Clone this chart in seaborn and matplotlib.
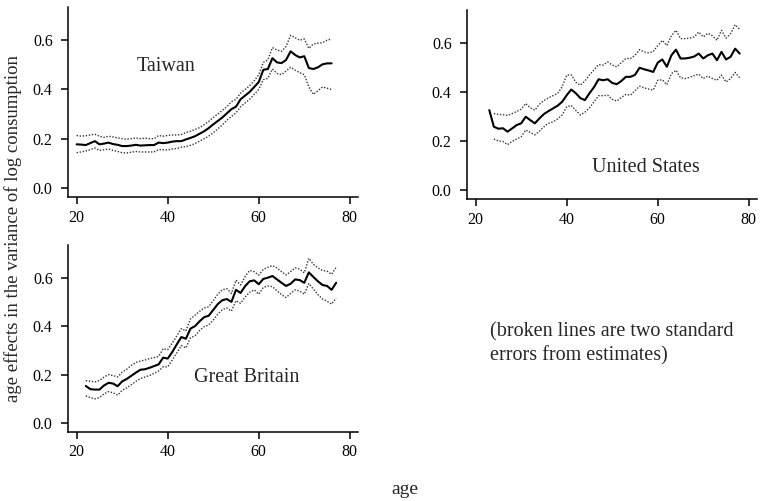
import numpy as np
import pandas as pd
import matplotlib.pyplot as plt
import seaborn as sns

sns.set_theme(style="ticks")
plt.rcParams["font.family"] = ["Liberation Serif", "DejaVu Serif"]

# Taiwan, ages 20-76
tw_age = list(range(20, 77))
tw_mean = [0.177, 0.176, 0.174, 0.182, 0.190, 0.177, 0.180, 0.184, 0.178, 0.175,
           0.170, 0.170, 0.172, 0.175, 0.172, 0.173, 0.174, 0.174, 0.184, 0.182,
           0.184, 0.188, 0.190, 0.190, 0.197, 0.203, 0.210, 0.220, 0.230, 0.243,
           0.258, 0.272, 0.286, 0.303, 0.320, 0.330, 0.360, 0.375, 0.390, 0.410,
           0.430, 0.480, 0.483, 0.527, 0.510, 0.507, 0.520, 0.555, 0.540, 0.530,
           0.535, 0.487, 0.483, 0.490, 0.502, 0.506, 0.506]
tw_upper = [0.213, 0.210, 0.212, 0.215, 0.218, 0.210, 0.205, 0.210, 0.207, 0.203,
            0.200, 0.198, 0.200, 0.203, 0.200, 0.202, 0.200, 0.200, 0.213, 0.210,
            0.213, 0.215, 0.215, 0.217, 0.225, 0.230, 0.237, 0.245, 0.257, 0.270,
            0.286, 0.300, 0.315, 0.330, 0.350, 0.360, 0.385, 0.400, 0.415, 0.435,
            0.460, 0.510, 0.520, 0.570, 0.560, 0.555, 0.575, 0.620, 0.610, 0.600,
            0.605, 0.567, 0.585, 0.588, 0.590, 0.600, 0.605]
tw_lower = [0.143, 0.146, 0.150, 0.155, 0.162, 0.152, 0.155, 0.158, 0.152, 0.148,
            0.143, 0.142, 0.145, 0.148, 0.146, 0.146, 0.146, 0.146, 0.156, 0.155,
            0.154, 0.158, 0.160, 0.165, 0.168, 0.173, 0.180, 0.190, 0.200, 0.210,
            0.224, 0.240, 0.256, 0.275, 0.290, 0.305, 0.330, 0.345, 0.360, 0.380,
            0.400, 0.440, 0.445, 0.483, 0.465, 0.460, 0.475, 0.490, 0.478, 0.468,
            0.460, 0.410, 0.380, 0.395, 0.410, 0.405, 0.400]

# United States, ages 23-78 (bands start at 24)
us_age = list(range(23, 79))
us_mean = [0.326, 0.258, 0.250, 0.252, 0.238, 0.251, 0.265, 0.272, 0.299, 0.285,
           0.272, 0.292, 0.310, 0.322, 0.333, 0.344, 0.360, 0.387, 0.410, 0.395,
           0.375, 0.367, 0.395, 0.420, 0.452, 0.448, 0.452, 0.437, 0.432, 0.445,
           0.462, 0.462, 0.470, 0.499, 0.493, 0.488, 0.482, 0.520, 0.533, 0.503,
           0.550, 0.573, 0.537, 0.537, 0.540, 0.545, 0.557, 0.537, 0.550, 0.557,
           0.530, 0.564, 0.533, 0.544, 0.577, 0.557]
us_upper = [np.nan, 0.312, 0.309, 0.307, 0.304, 0.312, 0.320, 0.330, 0.353, 0.335,
            0.326, 0.350, 0.365, 0.376, 0.385, 0.394, 0.421, 0.469, 0.470, 0.440,
            0.428, 0.445, 0.470, 0.490, 0.512, 0.510, 0.523, 0.510, 0.503, 0.520,
            0.537, 0.537, 0.550, 0.573, 0.564, 0.560, 0.565, 0.590, 0.611, 0.590,
            0.630, 0.652, 0.618, 0.618, 0.620, 0.625, 0.645, 0.625, 0.640, 0.630,
            0.611, 0.652, 0.620, 0.638, 0.675, 0.656]
us_lower = [np.nan, 0.208, 0.200, 0.198, 0.185, 0.198, 0.208, 0.217, 0.245, 0.235,
            0.225, 0.240, 0.258, 0.272, 0.278, 0.290, 0.306, 0.340, 0.345, 0.325,
            0.306, 0.318, 0.335, 0.360, 0.385, 0.385, 0.387, 0.370, 0.363, 0.378,
            0.390, 0.387, 0.405, 0.424, 0.417, 0.412, 0.408, 0.448, 0.450, 0.430,
            0.475, 0.489, 0.458, 0.455, 0.460, 0.467, 0.473, 0.455, 0.465, 0.455,
            0.448, 0.469, 0.441, 0.455, 0.480, 0.458]

# Great Britain, ages 22-77
gb_age = list(range(22, 78))
gb_mean = [0.153, 0.140, 0.138, 0.138, 0.155, 0.166, 0.163, 0.152, 0.172, 0.182,
           0.195, 0.208, 0.220, 0.222, 0.228, 0.235, 0.242, 0.270, 0.266, 0.293,
           0.325, 0.355, 0.348, 0.390, 0.400, 0.420, 0.437, 0.443, 0.467, 0.491,
           0.507, 0.512, 0.500, 0.550, 0.537, 0.565, 0.585, 0.589, 0.573, 0.595,
           0.600, 0.607, 0.593, 0.579, 0.566, 0.575, 0.593, 0.590, 0.579, 0.622,
           0.603, 0.585, 0.570, 0.566, 0.550, 0.579]
gb_upper = [0.175, 0.173, 0.170, 0.175, 0.190, 0.200, 0.196, 0.190, 0.210, 0.222,
            0.238, 0.250, 0.256, 0.260, 0.266, 0.270, 0.275, 0.307, 0.303, 0.330,
            0.360, 0.390, 0.380, 0.430, 0.445, 0.461, 0.475, 0.480, 0.505, 0.532,
            0.550, 0.555, 0.535, 0.590, 0.570, 0.605, 0.630, 0.625, 0.611, 0.634,
            0.643, 0.650, 0.640, 0.625, 0.611, 0.625, 0.641, 0.635, 0.620, 0.680,
            0.655, 0.640, 0.630, 0.627, 0.614, 0.643]
gb_lower = [0.112, 0.105, 0.100, 0.105, 0.120, 0.130, 0.125, 0.115, 0.135, 0.145,
            0.158, 0.172, 0.184, 0.190, 0.196, 0.205, 0.215, 0.232, 0.232, 0.260,
            0.289, 0.320, 0.310, 0.352, 0.360, 0.382, 0.398, 0.405, 0.425, 0.450,
            0.468, 0.475, 0.462, 0.505, 0.494, 0.520, 0.540, 0.550, 0.532, 0.560,
            0.566, 0.563, 0.546, 0.530, 0.518, 0.535, 0.550, 0.545, 0.532, 0.576,
            0.553, 0.530, 0.512, 0.503, 0.491, 0.516]

panels = [
    ("Taiwan", tw_age, tw_mean, tw_upper, tw_lower,
     [68/761, 1-197/501, 290/761, 190/501], (33.2, 0.494)),
    ("United States", us_age, us_mean, us_upper, us_lower,
     [467/761, 1-199/501, 290/761, 189/501], (45.5, 0.09)),
    ("Great Britain", gb_age, gb_mean, gb_upper, gb_lower,
     [68/761, 1-432/501, 290/761, 187/501], (45.7, 0.19)),
]

fig = plt.figure(figsize=(7.61, 5.01), dpi=100)

for name, age, mean, upper, lower, pos, lab in panels:
    ax = fig.add_axes(pos)
    df = pd.DataFrame({"age": age, "mean": mean, "upper": upper, "lower": lower})
    # dotted bands = two standard errors
    sns.lineplot(data=df, x="age", y="upper", ax=ax, color="#333333",
                 linewidth=1.0, linestyle=(0, (1, 1.2)))
    sns.lineplot(data=df, x="age", y="lower", ax=ax, color="#333333",
                 linewidth=1.0, linestyle=(0, (1, 1.2)))
    sns.lineplot(data=df, x="age", y="mean", ax=ax, color="black", linewidth=1.5)
    ax.set_xlim(18.1, 81.8)
    ax.set_ylim(-0.037, 0.735)
    ax.set_xticks([20, 40, 60, 80])
    ax.set_yticks([0.0, 0.2, 0.4, 0.6])
    ax.set_yticklabels(["0.0", "0.2", "0.4", "0.6"])
    ax.set_xlabel("")
    ax.set_ylabel("")
    sns.despine(ax=ax)
    for s in ["left", "bottom"]:
        ax.spines[s].set_linewidth(1.1)
        ax.spines[s].set_color("black")
    ax.tick_params(axis="both", labelsize=11.5, length=5, width=1.1, colors="black")
    ax.tick_params(axis="y", pad=6)
    ax.tick_params(axis="x", pad=4)
    ax.text(lab[0], lab[1], name, fontsize=14.5, ha="left", va="center")

fig.text(13/761, 1-228/501, "age effects in the variance of log consumption",
         rotation=90, ha="center", va="center", fontsize=13.5)
fig.text(405/761, 1-489/501, "age", ha="center", va="center", fontsize=14)
fig.text(490/761, 1-344/501,
         "(broken lines are two standard\nerrors from estimates)",
         ha="left", va="center", fontsize=14.5, linespacing=1.35)

fig.savefig("out.png", dpi=100)
